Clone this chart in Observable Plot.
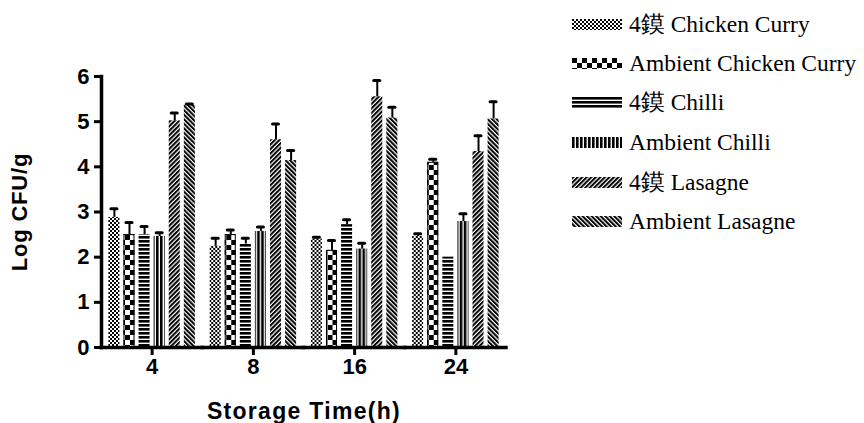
<!DOCTYPE html>
<html><head><meta charset="utf-8">
<script src="https://cdn.jsdelivr.net/npm/d3@7"></script>
<script src="https://cdn.jsdelivr.net/npm/@observablehq/plot@0.6"></script>
<style>
body{margin:0;background:#fff}
#wrap{position:relative;width:864px;height:423px;overflow:hidden;background:#fff}
#legend{position:absolute;left:572px;top:0;font-family:"Liberation Serif","Times New Roman",serif;font-size:23.5px;color:#000}
.row{position:absolute;left:0;height:0;display:flex;align-items:center;white-space:nowrap}
.row svg{flex:none;margin-right:7px}
</style></head><body>
<div id="wrap"><div id="legend"></div></div>
<svg width="0" height="0" style="position:absolute">
<defs>
<pattern id="p0" patternUnits="userSpaceOnUse" width="4" height="4">
<rect width="4" height="4" fill="#fff"/><rect width="2" height="2" fill="#000"/><rect x="2" y="2" width="2" height="2" fill="#000"/>
</pattern>
<pattern id="p1" patternUnits="userSpaceOnUse" width="10" height="10">
<rect width="10" height="10" fill="#fff"/><rect width="5" height="5" fill="#000"/><rect x="5" y="5" width="5" height="5" fill="#000"/>
</pattern>
<pattern id="p2" patternUnits="userSpaceOnUse" width="4" height="4">
<rect width="4" height="4" fill="#fff"/><rect width="4" height="2.6" fill="#000"/>
</pattern>
<pattern id="p3" patternUnits="userSpaceOnUse" width="4" height="4">
<rect width="4" height="4" fill="#fff"/><rect width="2.6" height="4" fill="#000"/>
</pattern>
<pattern id="p4" patternUnits="userSpaceOnUse" width="3.2" height="3.2" patternTransform="rotate(45)">
<rect width="3.2" height="3.2" fill="#fff"/><rect width="2" height="3.2" fill="#000"/>
</pattern>
<pattern id="p5" patternUnits="userSpaceOnUse" width="3.2" height="3.2" patternTransform="rotate(-45)">
<rect width="3.2" height="3.2" fill="#fff"/><rect width="2" height="3.2" fill="#000"/>
</pattern>
</defs>
</svg>
<script>
// Data
const times = ["4", "8", "16", "24"];
const series = ["4鏌 Chicken Curry", "Ambient Chicken Curry", "4鏌 Chilli", "Ambient Chilli", "4鏌 Lasagne", "Ambient Lasagne"];
const chickenCurry4 = [2.88, 2.24, 2.40, 2.46];
const chickenCurry4Err = [0.19, 0.18, 0.04, 0.06];
const chickenCurryAmb = [2.50, 2.50, 2.15, 4.10];
const chickenCurryAmbErr = [0.27, 0.10, 0.22, 0.07];
const chilli4 = [2.50, 2.29, 2.72, 2.00];
const chilli4Err = [0.18, 0.13, 0.11, 0];
const chilliAmb = [2.46, 2.57, 2.18, 2.79];
const chilliAmbErr = [0.08, 0.10, 0.13, 0.17];
const lasagne4 = [5.02, 4.60, 5.55, 4.34];
const lasagne4Err = [0.17, 0.35, 0.36, 0.35];
const lasagneAmb = [5.37, 4.14, 5.08, 5.06];
const lasagneAmbErr = [0.02, 0.22, 0.24, 0.38];
const yTicks = [0, 1, 2, 3, 4, 5, 6];

// styles (patterns) per series
const patterns = ["url(#p0)", "url(#p1)", "url(#p2)", "url(#p3)", "url(#p4)", "url(#p5)"];

const valueLists = [chickenCurry4, chickenCurryAmb, chilli4, chilliAmb, lasagne4, lasagneAmb];
const errLists = [chickenCurry4Err, chickenCurryAmbErr, chilli4Err, chilliAmbErr, lasagne4Err, lasagneAmbErr];
const rows = [];
series.forEach((s, i) => times.forEach((t, j) => rows.push({series: s, time: t, value: valueLists[i][j], err: errLists[i][j]})));
const errRows = rows.filter(d => d.err > 0);

const chart = Plot.plot({
  width: 864, height: 423,
  marginLeft: 101, marginRight: 358, marginTop: 76, marginBottom: 76,
  style: {fontFamily: "'Liberation Sans', Arial, sans-serif", background: "transparent", color: "#000"},
  fx: {domain: times, padding: 0, round: false},
  x: {domain: series, paddingInner: 0.27, paddingOuter: 0.49, round: false, axis: null},
  y: {domain: [0, 6]},
  color: {domain: series, range: patterns},
  marks: [
    Plot.barY(rows, {fx: "time", x: "series", y: "value", fill: "series"}),
    Plot.barY(rows.filter(d => d.series === series[1]), {fx: "time", x: "series", y: "value", fill: "none", stroke: "#000", strokeWidth: 1, inset: 0.5}),
    Plot.ruleX(errRows, {fx: "time", x: "series", y1: "value", y2: d => d.value + d.err, strokeWidth: 2}),
    Plot.tickY(errRows, {fx: "time", x: "series", y: d => d.value + d.err, strokeWidth: 3, strokeLinecap: "round", insetLeft: 2.5, insetRight: 2.5}),
    Plot.ruleY([0], {strokeWidth: 3.5, strokeLinecap: "square"}),
    Plot.frame({anchor: "left", facetAnchor: "left", strokeWidth: 3.5}),
    Plot.axisY({ticks: yTicks, tickFormat: "d", tickSize: 7, strokeWidth: 3, tickPadding: 5, fontSize: 22, fontWeight: "bold", label: null}),
    Plot.axisY({ticks: [], tickSize: 0, fontSize: 22, fontWeight: "bold",
      label: "Log CFU/g", labelAnchor: "center", labelOffset: 90, labelArrow: "none"}),
    Plot.axisFx({anchor: "bottom", tickSize: 8, strokeWidth: 3, tickPadding: 3, fontSize: 22, fontWeight: "bold", label: null}),
    Plot.axisFx({anchor: "bottom", ticks: [], tickSize: 0, fontSize: 23, fontWeight: "bold",
      label: "Storage Time(h)", labelAnchor: "center", labelOffset: 71, labelArrow: "none"})
  ]
});
document.getElementById("wrap").prepend(chart);
// slight letter spacing on the axis titles, as in the reference
chart.querySelectorAll("text").forEach(t => {
  if (t.textContent === "Storage Time(h)") t.setAttribute("letter-spacing", "1.3");
  if (t.textContent === "Log CFU/g") t.setAttribute("letter-spacing", "0.8");
});

// legend
const legend = document.getElementById("legend");
const rowY = [24, 63, 102, 142, 182, 221];
series.forEach((s, i) => {
  const row = document.createElement("div");
  row.className = "row";
  row.style.top = rowY[i] + "px";
  row.innerHTML = `<svg width="50" height="11"><rect width="50" height="11" fill="${patterns[i]}"/></svg><span>${s}</span>`;
  legend.appendChild(row);
});
</script>
</body></html>
